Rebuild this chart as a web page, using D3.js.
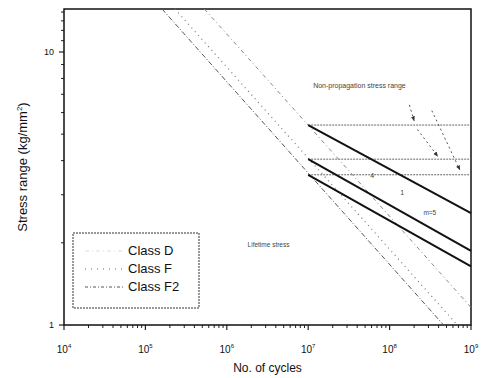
<!DOCTYPE html>
<html>
<head>
<meta charset="utf-8">
<script src="https://cdn.jsdelivr.net/npm/d3@7"></script>
<style>
  body { margin: 0; background: #fff; }
  text { font-family: Arial, "Liberation Sans", sans-serif; }
</style>
</head>
<body>
<div id="chart"></div>
<script>
// classes shown in the legend
const classNames = ["Class D", "Class F", "Class F2"];
// S-N curves (m = 3), two points [cycles, kg/mm2]
const snD  = [[5.3e5, 14.37], [1e9, 1.16]];
const snF  = [[2.3e5, 14.37], [6.8e8, 1]];
const snF2 = [[1.6e5, 14.37], [4.6e8, 1]];
// solid lines beyond 1e7 cycles
const lowD  = [[1e7, 5.4],  [1e9, 2.57]];
const lowF  = [[1e7, 4.05], [1e9, 1.87]];
const lowF2 = [[1e7, 3.55], [1e9, 1.64]];
// non-propagation stress ranges
const npLevels = [5.4, 4.05, 3.55];
const npStart = 1e7, npEnd = 1e9;
// arrows from the annotation
const arrows = [
  [[1.75e8, 6.4], [2.0e8, 5.6]],
  [[2.2e8, 5.2], [3.9e8, 4.15]],
  [[3.3e8, 6.1], [7.3e8, 3.7]]
];
const xTicks = [1e4, 1e5, 1e6, 1e7, 1e8, 1e9];
const xTickExp = ["4", "5", "6", "7", "8", "9"];
const yTicks = [1, 10];
const yTickLabels = ["1", "10"];

const W = 483, H = 378;
const margin = { top: 9, right: 12, bottom: 53, left: 64 };
const width = W - margin.left - margin.right;
const height = H - margin.top - margin.bottom;

const svg = d3.select("#chart").append("svg")
  .attr("width", W).attr("height", H);

const defs = svg.append("defs");
defs.append("marker")
  .attr("id", "arr")
  .attr("viewBox", "0 0 10 10")
  .attr("refX", 9).attr("refY", 5)
  .attr("markerWidth", 5).attr("markerHeight", 5)
  .attr("orient", "auto")
  .append("path").attr("d", "M0,1L10,5L0,9Z").attr("fill", "#333");

const g = svg.append("g")
  .attr("transform", "translate(" + margin.left + "," + margin.top + ")");

const x = d3.scaleLog().domain([1e4, 1e9]).range([0, width]);
const y = d3.scaleLog().domain([1, 14.37]).range([height, 0]);

const line = d3.line().x(d => x(d[0])).y(d => y(d[1]));

// minor ticks
const xMinor = [];
for (let e = 4; e < 9; e++) for (let k = 2; k <= 9; k++) xMinor.push(k * Math.pow(10, e));
const yMinor = [];
for (let k = 2; k <= 9; k++) yMinor.push(k);
yMinor.push(11, 12, 13, 14);

g.append("g").selectAll("line").data(xMinor).enter().append("line")
  .attr("x1", d => x(d)).attr("x2", d => x(d))
  .attr("y1", height).attr("y2", height + 3)
  .attr("stroke", "#222").attr("stroke-width", 1);
g.append("g").selectAll("line").data(xTicks).enter().append("line")
  .attr("x1", d => x(d)).attr("x2", d => x(d))
  .attr("y1", height).attr("y2", height + 5)
  .attr("stroke", "#222").attr("stroke-width", 1.2);
g.append("g").selectAll("line").data(yMinor).enter().append("line")
  .attr("x1", -3).attr("x2", 0)
  .attr("y1", d => y(d)).attr("y2", d => y(d))
  .attr("stroke", "#222").attr("stroke-width", 1);
g.append("g").selectAll("line").data(yTicks).enter().append("line")
  .attr("x1", -5).attr("x2", 0)
  .attr("y1", d => y(d)).attr("y2", d => y(d))
  .attr("stroke", "#222").attr("stroke-width", 1.2);

// tick labels
const xl = g.append("g").selectAll("text").data(xTicks).enter().append("text")
  .attr("x", d => x(d)).attr("y", height + 28)
  .attr("text-anchor", "middle")
  .attr("font-size", 10).attr("fill", "#111");
xl.append("tspan").text("10");
xl.append("tspan").attr("dy", -5).attr("font-size", 6)
  .text((d, i) => xTickExp[i]);

g.append("g").selectAll("text").data(yTicks).enter().append("text")
  .attr("x", -10).attr("y", d => y(d) + 3)
  .attr("text-anchor", "end")
  .attr("font-size", 9).attr("fill", "#111")
  .text((d, i) => yTickLabels[i]);

// frame
g.append("rect")
  .attr("width", width).attr("height", height)
  .attr("fill", "none").attr("stroke", "#111").attr("stroke-width", 1.5);

// non-propagation stress range lines
g.append("g").selectAll("line").data(npLevels).enter().append("line")
  .attr("x1", x(npStart)).attr("x2", x(npEnd))
  .attr("y1", d => y(d)).attr("y2", d => y(d))
  .attr("stroke", "#666").attr("stroke-width", 1)
  .attr("stroke-dasharray", "2,1");

// S-N curves
const snStyles = [
  { data: snD,  color: "#888", dash: "4,3,1,3", w: 1 },
  { data: snF,  color: "#777", dash: "1,4", w: 1.2 },
  { data: snF2, color: "#555", dash: "5,2,1,2", w: 1 }
];
g.append("g").selectAll("path").data(snStyles).enter().append("path")
  .attr("d", d => line(d.data))
  .attr("fill", "none").attr("stroke", d => d.color)
  .attr("stroke-width", d => d.w).attr("stroke-dasharray", d => d.dash);

// solid lines
g.append("g").selectAll("path").data([lowD, lowF, lowF2]).enter().append("path")
  .attr("d", d => line(d))
  .attr("fill", "none").attr("stroke", "#111").attr("stroke-width", 2);

// arrows
g.append("g").selectAll("path").data(arrows).enter().append("path")
  .attr("d", d => line(d))
  .attr("fill", "none").attr("stroke", "#555").attr("stroke-width", 1)
  .attr("stroke-dasharray", "2,3")
  .attr("marker-end", "url(#arr)");

// annotations
g.append("text")
  .attr("x", x(1.15e7)).attr("y", y(7.35))
  .attr("font-size", 7).attr("fill", "#444")
  .text("Non-propagation stress range");
g.append("text")
  .attr("x", x(1.8e6)).attr("y", y(1.93))
  .attr("font-size", 6.5).attr("fill", "#444")
  .text("Lifetime stress");
g.append("text").attr("x", x(5.8e7)).attr("y", y(3.45))
  .attr("font-size", 7).attr("fill", "#444").text("4");
g.append("text").attr("x", x(1.35e8)).attr("y", y(3.0))
  .attr("font-size", 7).attr("fill", "#444").text("1");
g.append("text").attr("x", x(2.6e8)).attr("y", y(2.53))
  .attr("font-size", 6.5).attr("fill", "#444").text("m=5");

// legend
const lg = g.append("g").attr("transform", "translate(9,224)");
lg.append("rect").attr("width", 126).attr("height", 75)
  .attr("fill", "#fff").attr("stroke", "#333").attr("stroke-width", 1)
  .attr("stroke-dasharray", "2,1");
const legStyles = [
  { color: "#ddd", dash: "4,3,1,3" },
  { color: "#666", dash: "1,5" },
  { color: "#555", dash: "3,2,1,2" }
];
const li = lg.selectAll("g.item").data(classNames).enter().append("g")
  .attr("transform", (d, i) => "translate(0," + (22 + i * 18) + ")");
li.append("line")
  .attr("x1", 12).attr("x2", 52).attr("y1", -4).attr("y2", -4)
  .attr("stroke", (d, i) => legStyles[i].color)
  .attr("stroke-dasharray", (d, i) => legStyles[i].dash)
  .attr("stroke-width", 1);
li.append("text").attr("x", 55).attr("y", 0)
  .attr("font-size", 13).attr("fill", "#111")
  .text(d => d);

// axis titles
svg.append("text")
  .attr("x", margin.left + width / 2).attr("y", 372)
  .attr("text-anchor", "middle").attr("font-size", 12).attr("fill", "#111")
  .text("No. of cycles");
const yt = svg.append("text")
  .attr("transform", "translate(27," + (margin.top + height / 2) + ") rotate(-90)")
  .attr("text-anchor", "middle").attr("font-size", 13).attr("fill", "#111");
yt.append("tspan").text("Stress range (kg/mm");
yt.append("tspan").attr("dy", -5).attr("font-size", 8).text("2");
yt.append("tspan").attr("dy", 5).text(")");
</script>
</body>
</html>
